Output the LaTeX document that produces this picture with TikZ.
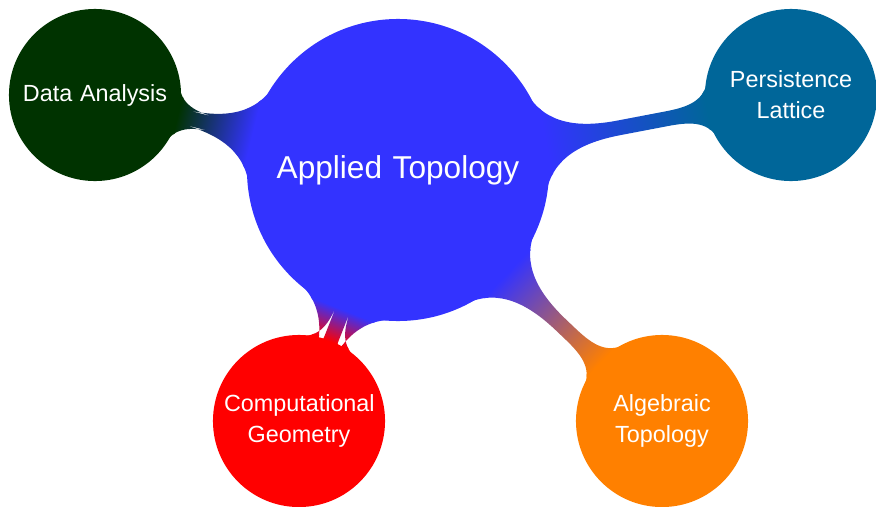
\documentclass[tikz,border=0pt]{standalone}
\usepackage{fontspec}
\setmainfont{Liberation Sans}
\usetikzlibrary{mindmap}
\definecolor{topblue}{RGB}{51,51,255}
\definecolor{dagreen}{RGB}{0,51,0}
\definecolor{plteal}{RGB}{0,102,153}
\definecolor{cgred}{RGB}{255,0,0}
\definecolor{atorange}{RGB}{255,128,0}
\tikzset{
  rootc/.style  = {concept, text=white, minimum size=6.0cm, text width=5cm, inner sep=1pt,
                   align=center, font=\fontsize{18}{22}\selectfont},
  subc/.style   = {concept, text=white, minimum size=3.4cm, text width=3.0cm, inner sep=1pt,
                   align=center, font=\fontsize{13.3}{17.8}\selectfont},
  bar/.style    = {line width=4.5mm}
}

\begin{document}
\begin{tikzpicture}[mindmap, x=0.02cm, y=-0.02cm]
\useasboundingbox (0,0) rectangle (876,507);
% ---------------- root ----------------
\node[rootc, concept color=topblue] (root) at (398,170) {Applied Topology};

% ---------------- branches ----------------
\node[subc, concept color=dagreen]  (data) at (95,95)   {Data Analysis};
\node[subc, concept color=plteal]   (pers) at (791,95)  {Persistence\\ Lattice};
\node[subc, concept color=cgred]    (comp) at (299,421) {Computational\\ Geometry};
\node[subc, concept color=atorange] (alg)  at (662,421) {Algebraic\\ Topology};

% ---------------- connections ----------------
\path[bar] (root) to[circle connection bar switch color=from (topblue) to (dagreen)] (data);
\path[bar] (root) to[circle connection bar switch color=from (topblue) to (plteal)] (pers);
\path[bar] (root) to[circle connection bar switch color=from (topblue) to (cgred)] (comp);
\path[bar] (root) to[circle connection bar switch color=from (topblue) to (atorange)] (alg);

\end{tikzpicture}
\end{document}
